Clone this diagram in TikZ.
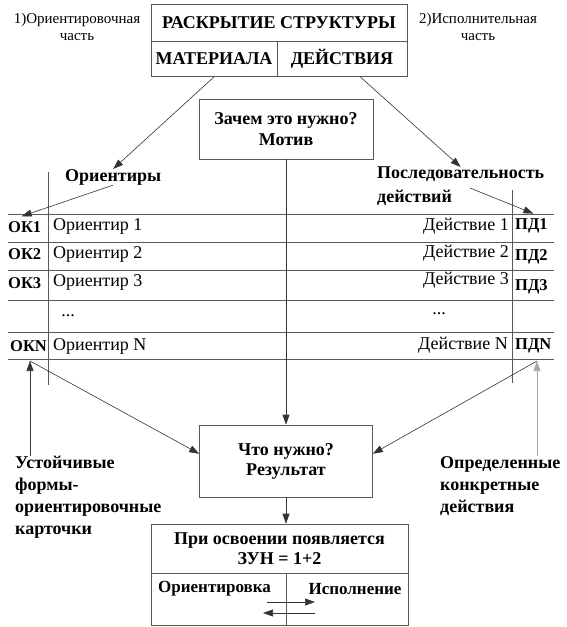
\documentclass[tikz,border=0pt]{standalone}
\usepackage{fontspec}
\setmainfont{Liberation Serif}
\usetikzlibrary{calc,arrows.meta}

\begin{document}
\begin{tikzpicture}[x=1pt, y=-1pt,
		line/.style={line width=0.6pt, color=black!65},
		arr/.style={line width=0.6pt, color=black!80, -{Triangle[length=10pt, width=7pt]}},
		cell/.style={draw=black!65, line width=0.6pt, inner sep=0pt, align=center, font=\fontsize{18}{20}\selectfont\bfseries},
		bold/.style={inner sep=0pt, align=left, font=\fontsize{18}{22}\selectfont\bfseries},
		tag/.style={inner sep=0pt, font=\fontsize{16.5}{20}\selectfont\bfseries},
		txt/.style={inner sep=0pt, align=center, font=\fontsize{18}{20}\selectfont},
		side/.style={inner sep=0pt, align=center, font=\fontsize{15}{17}\selectfont}]
		%%%%% START %%%%%
		\useasboundingbox (0,0) rectangle (566,627);
		
		\node[cell, minimum width=256, minimum height=37] (title) at (279,22.5) {РАСКРЫТИЕ СТРУКТУРЫ};
		\node[cell, minimum width=126, minimum height=35, anchor=north west] (mat) at (title.south west) {МАТЕРИАЛА};
		\node[cell, minimum width=130, minimum height=35, anchor=north east] (act) at (title.south east) {ДЕЙСТВИЯ};
		\node[side] (part1) at (77,27) {1)Ориентировочная\\часть};
		\node[side] (part2) at (478,27) {2)Исполнительная\\часть};
		
		\node[cell, minimum width=174, minimum height=60] (motive) at (286,129) {Зачем это нужно?\\[1pt]Мотив};
		
		\node[bold, anchor=west] (orient) at (65,177) {Ориентиры};
		\node[bold, anchor=north west] (seq) at (377,167) {Последовательность\\[2pt]действий};
		
		\draw[line] (8,214) -- (554,214);
		\draw[line] (8,242) -- (554,242);
		\draw[line] (8,270) -- (554,270);
		\draw[line] (8,300) -- (554,300);
		\draw[line] (8,332) -- (554,332);
		\draw[line] (8,359) -- (554,359);
		\draw[line] (48,172) -- (48,385);
		\draw[line] (512,190) -- (512,383);
		
		\node[tag, anchor=west] (ok1) at (8,227) {ОК1};
		\node[tag, anchor=west] (ok2) at (8,254) {ОК2};
		\node[tag, anchor=west] (ok3) at (8,283) {ОК3};
		\node[tag, anchor=west] (okn) at (10,346) {ОКN};
		\node[txt, anchor=west] (or1) at (53,226) {Ориентир 1};
		\node[txt, anchor=west] (or2) at (53,254) {Ориентир 2};
		\node[txt, anchor=west] (or3) at (53,282) {Ориентир 3};
		\node[txt] (dotsl) at (68,316) {...};
		\node[txt, anchor=west] (orn) at (53,346) {Ориентир N};
		\node[txt, anchor=east] (do1) at (509,226) {Действие 1};
		\node[txt, anchor=east] (do2) at (509,253) {Действие 2};
		\node[txt, anchor=east] (do3) at (509,280) {Действие 3};
		\node[txt] (dotsr) at (439,314) {...};
		\node[txt, anchor=east] (don) at (508,345) {Действие N};
		\node[tag, anchor=west] (pd1) at (515,226) {ПД1};
		\node[tag, anchor=west] (pd2) at (515,257) {ПД2};
		\node[tag, anchor=west] (pd3) at (515,287) {ПД3};
		\node[tag, anchor=west] (pdn) at (515,346) {ПДN};
		
		\node[cell, minimum width=173, minimum height=72] (result) at (286,461) {Что нужно?\\Результат};
		\node[bold, anchor=north west] (stable) at (15,456) {Устойчивые\\формы-\\ориентировочные\\карточки};
		\node[bold, anchor=north west] (concrete) at (440,456) {Определенные\\конкретные\\действия};
		
		\node[cell, minimum width=257, minimum height=49] (zun) at (279.5,548.5) {При освоении появляется\\ЗУН = 1+2};
		\node[draw=black!65, line width=0.6pt, minimum width=135, minimum height=52, anchor=north west] (celll) at (zun.south west) {};
		\node[draw=black!65, line width=0.6pt, minimum width=122, minimum height=52, anchor=north east] (cellr) at (zun.south east) {};
		\node[tag, font=\fontsize{17}{20}\selectfont\bfseries, anchor=west] (orw) at (158,589) {Ориентировка};
		\node[tag, font=\fontsize{17}{20}\selectfont\bfseries] (isp) at (355,589) {Исполнение};
		
		\coordinate (seqtail) at (470,188);
		\coordinate (oknfoot) at (30,361);
		\coordinate (pdnfoot) at (537,361);
		\coordinate (swapa) at (267,602);
		\coordinate (swapb) at (315,602);
		\coordinate (swapc) at (315,613);
		\coordinate (swapd) at (263,613);
		
		\draw[arr] (mat.south) -- (orient.north);
		\draw[arr] ($(act.south west)!0.64!(act.south east)$) -- (seq.north);
		\draw[arr] (orient.south) -- ($(ok1.north)+(-3,-5)$);
		\draw[arr] (seqtail) -- ($(pd1.north)+(2,-5)$);
		\draw[arr] (motive.south) -- (result.north);
		\draw[arr] (oknfoot) -- ($(result.north west)!0.4!(result.south west)$);
		\draw[arr] (pdnfoot) -- ($(result.north east)!0.4!(result.south east)$);
		\draw[arr] (stable.north -| oknfoot) -- (oknfoot);
		\draw[arr, color=black!35] (concrete.north -| pdnfoot) -- (pdnfoot);
		\draw[arr] (result.south) -- (result.south |- zun.north);
		\draw[arr] (swapa) -- (swapb);
		\draw[arr] (swapc) -- (swapd);
		
		%%%%% END %%%%%
\end{tikzpicture}
\end{document}
